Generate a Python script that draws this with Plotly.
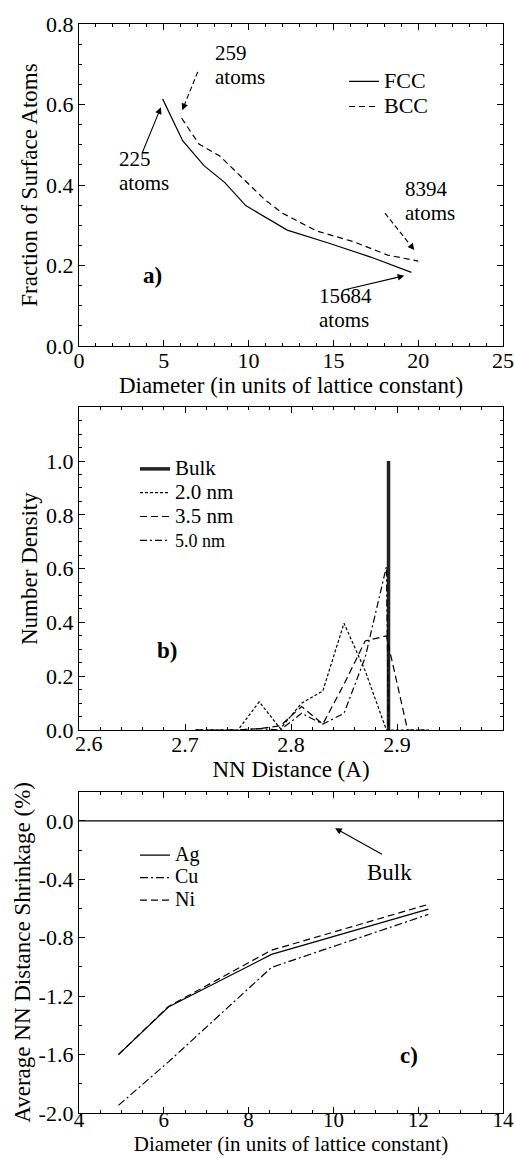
import plotly.graph_objects as go

# ---------------- data ----------------
# panel a: fraction of surface atoms vs diameter
fcc_diam = [4.93, 6.11, 7.37, 8.60, 9.83, 12.28, 14.7, 17.2, 19.6]
fcc_frac = [0.614, 0.510, 0.448, 0.406, 0.349, 0.288, 0.256, 0.221, 0.183]
bcc_diam = [6.05, 7.07, 8.3, 9.6, 10.97, 12.0, 14.0, 16.2, 18.2, 20.0]
bcc_frac = [0.566, 0.502, 0.472, 0.42, 0.363, 0.33, 0.286, 0.259, 0.226, 0.211]

# panel b: NN distance distributions
bulk_x = [2.892, 2.892]
bulk_y = [0.0, 1.0]
nm20_x = [2.71, 2.73, 2.75, 2.77, 2.79, 2.81, 2.83, 2.85, 2.87, 2.89, 2.91, 2.93]
nm20_y = [0.0, 0.0, 0.0, 0.105, 0.005, 0.10, 0.145, 0.397, 0.22, 0.0, 0.0, 0.0]
nm35_x = [2.71, 2.73, 2.75, 2.77, 2.79, 2.81, 2.83, 2.85, 2.87, 2.89, 2.91, 2.93]
nm35_y = [0.0, 0.0, 0.0, 0.005, 0.016, 0.087, 0.022, 0.17, 0.331, 0.35, 0.0, 0.0]
nm50_x = [2.71, 2.73, 2.75, 2.77, 2.79, 2.81, 2.83, 2.85, 2.87, 2.89, 2.892]
nm50_y = [0.0, 0.0, 0.0, 0.005, 0.0, 0.062, 0.022, 0.062, 0.27, 0.607, 0.0]

# panel c: average NN distance shrinkage
diam_c = [4.93, 6.11, 8.54, 12.24]
ag_shrink = [-1.60, -1.274, -0.914, -0.604]
cu_shrink = [-1.948, -1.65, -1.003, -0.64]
ni_shrink = [-1.60, -1.27, -0.885, -0.571]
bulk_c_x = [4, 14]
bulk_c_y = [0.0, 0.0]

# tick labels
a_xticks = [0, 5, 10, 15, 20, 25]
a_yticks = [0.0, 0.2, 0.4, 0.6, 0.8]
b_xticks = [2.6, 2.7, 2.8, 2.9]
b_xticktext = ["2.6", "2.7", "2.8", "2.9"]
b_yticks = [0.0, 0.2, 0.4, 0.6, 0.8, 1.0]
c_xticks = [4, 6, 8, 10, 12, 14]
c_yticks = [-2.0, -1.6, -1.2, -0.8, -0.4, 0.0]
c_yticktext = ["-2.0", "-1.6", "-1.2", "-0.8", "-0.4", "0.0"]

FONT = "Liberation Serif"
FS = 23
LW = 1.2


def nm(text, size=FS):
    return f'<span style="font-size:{size}px">{text}</span>'


fig = go.Figure()

# panel a
fig.add_trace(go.Scatter(x=fcc_diam, y=fcc_frac, mode="lines", name=nm("FCC", 22),
                         line=dict(color="black", width=LW), xaxis="x", yaxis="y", legend="legend"))
fig.add_trace(go.Scatter(x=bcc_diam, y=bcc_frac, mode="lines", name=nm("BCC", 22),
                         line=dict(color="black", width=LW, dash="6px,4px"), xaxis="x", yaxis="y",
                         legend="legend"))

# panel b
fig.add_trace(go.Scatter(x=bulk_x, y=bulk_y, mode="lines", name=nm("Bulk", 21),
                         line=dict(color="#222", width=3.5), xaxis="x2", yaxis="y2", legend="legend2"))
fig.add_trace(go.Scatter(x=nm20_x, y=nm20_y, mode="lines", name=nm("2.0 nm", 21),
                         line=dict(color="black", width=LW, dash="3px,2px"), xaxis="x2", yaxis="y2",
                         legend="legend2"))
fig.add_trace(go.Scatter(x=nm35_x, y=nm35_y, mode="lines", name=nm("3.5 nm", 21),
                         line=dict(color="black", width=LW, dash="7px,4px"), xaxis="x2", yaxis="y2",
                         legend="legend2"))
fig.add_trace(go.Scatter(x=nm50_x, y=nm50_y, mode="lines", name=nm("5.0 nm", 18),
                         line=dict(color="black", width=LW, dash="7px,3px,2px,3px"), xaxis="x2",
                         yaxis="y2", legend="legend2"))

# panel c
fig.add_trace(go.Scatter(x=bulk_c_x, y=bulk_c_y, mode="lines", showlegend=False,
                         line=dict(color="black", width=LW), xaxis="x3", yaxis="y3"))
fig.add_trace(go.Scatter(x=diam_c, y=ag_shrink, mode="lines", name=nm("Ag", 20),
                         line=dict(color="black", width=LW), xaxis="x3", yaxis="y3", legend="legend3"))
fig.add_trace(go.Scatter(x=diam_c, y=cu_shrink, mode="lines", name=nm("Cu", 20),
                         line=dict(color="black", width=LW, dash="8px,3px,2px,3px"), xaxis="x3",
                         yaxis="y3", legend="legend3"))
fig.add_trace(go.Scatter(x=diam_c, y=ni_shrink, mode="lines", name=nm("Ni", 20),
                         line=dict(color="black", width=LW, dash="7px,4px"), xaxis="x3", yaxis="y3",
                         legend="legend3"))


def axis(domain, rng, anchor, title, xa=False, tfs=FS, tls=-6, tks=22, **kw):
    d = dict(domain=domain, range=rng, anchor=anchor, showline=True, linecolor="black",
             linewidth=1.3, mirror="ticks", ticks="inside", ticklen=6, tickwidth=1,
             tickcolor="black", showgrid=False, zeroline=False,
             tickfont=dict(family=FONT, size=tks, color="black"),
             automargin=False,
             title=dict(text=title, font=dict(family=FONT, size=tfs, color="black"),
                        standoff=0 if xa else 1))
    if xa:
        d["ticklabelstandoff"] = tls
    d.update(kw)
    return d


minor = lambda dt: dict(dtick=dt, ticks="inside", ticklen=3, tickwidth=1, tickcolor="black",
                        showgrid=False)

layout = dict(
    width=514, height=1158, plot_bgcolor="white", paper_bgcolor="white",
    margin=dict(l=79, r=11, t=24, b=45),
    font=dict(family=FONT, color="black"),
    xaxis=axis([0, 1], [0, 25], "y", "Diameter (in units of lattice constant)", xa=True,
               tickvals=a_xticks, minor=minor(1)),
    yaxis=axis([0.7043, 1], [0, 0.8], "x", "Fraction of Surface Atoms",
               tickvals=a_yticks, tickformat=".1f", minor=minor(0.05)),
    # first tick label (2.6) is drawn as an annotation nudged right, as in the original
    xaxis2=axis([0, 1], [2.6, 3.0], "y2", "NN Distance (A)", xa=True,
                tickvals=b_xticks, ticktext=[""] + b_xticktext[1:], minor=minor(0.02)),
    yaxis2=axis([0.3517, 0.648], [0, 1.2], "x2", "Number Density",
                tickvals=b_yticks, tickformat=".1f", minor=minor(0.05)),
    xaxis3=axis([0, 1], [4, 14], "y3", "Diameter (in units of lattice constant)", xa=True,
                tfs=21, tls=-12, tks=21, tickvals=c_xticks, minor=minor(0.5)),
    yaxis3=axis([0, 0.295], [-2.0, 0.2], "x3", "Average NN Distance Shrinkage (%)",
                tickvals=c_yticks, ticktext=c_yticktext, minor=minor(0.2)),
    legend=dict(x=0.625, y=0.9634, xanchor="left", yanchor="top", font=dict(family=FONT, size=17),
                bgcolor="rgba(0,0,0,0)", itemwidth=30, tracegroupgap=0),
    legend2=dict(x=0.132, y=0.607, xanchor="left", yanchor="top", font=dict(family=FONT, size=16),
                 bgcolor="rgba(0,0,0,0)", itemwidth=30, tracegroupgap=0),
    legend3=dict(x=0.132, y=0.2518, xanchor="left", yanchor="top", font=dict(family=FONT, size=15),
                 bgcolor="rgba(0,0,0,0)", itemwidth=30, tracegroupgap=0),
)
fig.update_layout(**layout)

ann_font = dict(family=FONT, size=21, color="black")
lbl_font = dict(family=FONT, size=FS, color="black")


def text(x, y, t, xr, yr, xanchor="left", font=ann_font, **kw):
    fig.add_annotation(x=x, y=y, text=t, xref=xr, yref=yr, showarrow=False,
                       xanchor=xanchor, yanchor="middle", font=font, **kw)


def arrow(x0, y0, x1, y1, xr, yr, dashed=False):
    if dashed:
        # dashed shaft, solid head
        fx = x0 + (x1 - x0) * 0.85
        fy = y0 + (y1 - y0) * 0.85
        fig.add_shape(type="line", x0=x0, y0=y0, x1=fx, y1=fy, xref=xr, yref=yr,
                      line=dict(color="black", width=1.1, dash="5px,3px"))
        fig.add_annotation(x=x1, y=y1, ax=fx, ay=fy, xref=xr, yref=yr, axref=xr, ayref=yr,
                           text="", showarrow=True, arrowhead=2, arrowsize=1.2, arrowwidth=1.1,
                           arrowcolor="black")
    else:
        fig.add_annotation(x=x1, y=y1, ax=x0, ay=y0, xref=xr, yref=yr, axref=xr, ayref=yr,
                           text="", showarrow=True, arrowhead=2, arrowsize=1.2, arrowwidth=1.1,
                           arrowcolor="black")


# panel a annotations (line pair separated ~24 px)
text(7.92, 0.728, "259", "x", "y")
text(7.92, 0.668, "atoms", "x", "y")
arrow(7.0, 0.681, 6.09, 0.586, "x", "y", dashed=True)
text(2.22, 0.465, "225", "x", "y")
text(2.22, 0.405, "atoms", "x", "y")
arrow(3.70, 0.477, 4.83, 0.593, "x", "y")
text(19.12, 0.390, "8394", "x", "y")
text(19.12, 0.330, "atoms", "x", "y")
arrow(18.04, 0.330, 19.77, 0.2385, "x", "y", dashed=True)
text(14.01, 0.125, "15684", "x", "y")
text(14.01, 0.065, "atoms", "x", "y")
arrow(15.58, 0.139, 19.18, 0.1747, "x", "y")
text(4.36, 0.176, "<b>a)</b>", "x", "y", xanchor="center", font=lbl_font)

# panel b
text(b_xticks[0], b_yticks[0], b_xticktext[0], "x2", "y2", xanchor="center",
     font=dict(family=FONT, size=22, color="black"), xshift=10, yshift=-14)
text(2.683, 0.297, "<b>b)</b>", "x2", "y2", xanchor="center", font=lbl_font)

# panel c
text(11.33, -0.355, "Bulk", "x3", "y3", xanchor="center", font=lbl_font)
arrow(11.18, -0.233, 10.04, -0.050, "x3", "y3")
text(11.78, -1.605, "<b>c)</b>", "x3", "y3", xanchor="center", font=lbl_font)

fig.write_html("out.html", config={"displayModeBar": False},
               post_script="document.body.style.margin='0';")
